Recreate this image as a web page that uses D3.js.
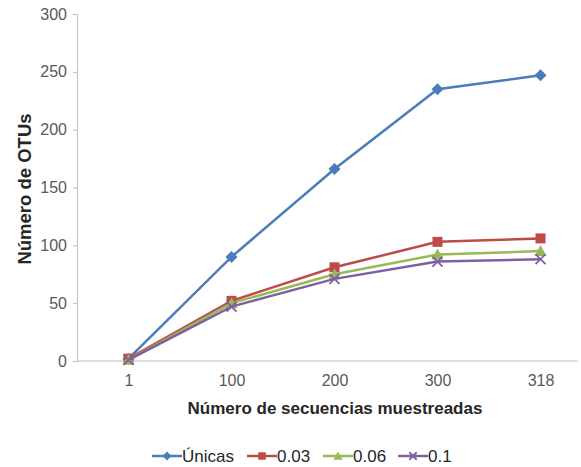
<!DOCTYPE html>
<html>
<head>
<meta charset="utf-8">
<script src="https://cdn.jsdelivr.net/npm/d3@7"></script>
<style>
  html, body { margin: 0; padding: 0; background: #fff; }
</style>
</head>
<body>
<div id="chart"></div>
<script>
const categories = ['1', '100', '200', '300', '318'];
const unicas = [2, 90, 166, 235, 247];
const s003 = [2, 52, 81, 103, 106];
const s006 = [1, 50, 75, 92, 95];
const s01 = [1, 47, 71, 86, 88];
const yTicks = [0, 50, 100, 150, 200, 250, 300];

const series = [
  { name: 'Únicas', values: unicas, color: '#4a7ebb', marker: 'diamond' },
  { name: '0.03', values: s003, color: '#be4b48', marker: 'square' },
  { name: '0.06', values: s006, color: '#98b954', marker: 'triangle' },
  { name: '0.1', values: s01, color: '#7d60a0', marker: 'cross' },
];

const width = 581;
const height = 467;
const plotLeft = 77;
const plotTop = 14;
const plotBottom = 361;

const svg = d3.select('#chart').append('svg')
  .attr('width', width)
  .attr('height', height)
  .attr('font-family', 'Liberation Sans, Arial, sans-serif');

const x = d3.scalePoint().domain(categories).range([plotLeft, plotLeft + 515]).padding(0.5);
const y = d3.scaleLinear().domain([0, 300]).range([plotBottom, plotTop]);

// y axis
const yAxis = svg.append('g')
  .attr('transform', `translate(${plotLeft},0)`)
  .call(d3.axisLeft(y).tickValues(yTicks).tickSize(4).tickPadding(6));
yAxis.select('.domain').attr('stroke', '#bfbfbf');
yAxis.selectAll('.tick line').attr('stroke', '#bfbfbf');
yAxis.selectAll('.tick text').attr('font-size', 16).attr('fill', '#595959');

// x axis
svg.append('line')
  .attr('x1', plotLeft).attr('x2', 578)
  .attr('y1', plotBottom).attr('y2', plotBottom)
  .attr('stroke', '#bfbfbf');
const xAxis = svg.append('g')
  .attr('transform', `translate(0,${plotBottom})`)
  .call(d3.axisBottom(x).tickSize(0).tickPadding(14));
xAxis.select('.domain').remove();
xAxis.selectAll('.tick text').attr('font-size', 16).attr('fill', '#595959');

// titles
svg.append('text')
  .attr('x', 335).attr('y', 414)
  .attr('text-anchor', 'middle')
  .attr('font-size', 17).attr('font-weight', 'bold')
  .attr('fill', '#262626')
  .text('Número de secuencias muestreadas');

svg.append('text')
  .attr('transform', 'translate(31,189) rotate(-90)')
  .attr('text-anchor', 'middle')
  .attr('font-size', 18.5).attr('font-weight', 'bold')
  .attr('fill', '#262626')
  .text('Número de OTUs');

function drawMarker(g, type, color, k = 1) {
  if (type === 'diamond') {
    g.append('path').attr('d', `M0,${-6 * k}L${6 * k},0L0,${6 * k}L${-6 * k},0Z`).attr('fill', color);
  } else if (type === 'square') {
    g.append('rect').attr('x', -5 * k).attr('y', -5 * k)
      .attr('width', 10 * k).attr('height', 10 * k).attr('fill', color);
  } else if (type === 'triangle') {
    g.append('path').attr('d', `M0,${-6 * k}L${6 * k},${5 * k}L${-6 * k},${5 * k}Z`).attr('fill', color);
  } else {
    const r = 5 * k;
    g.append('path').attr('d', `M${-r},${-r}L${r},${r}M${-r},${r}L${r},${-r}`)
      .attr('stroke', color).attr('stroke-width', 1.8).attr('fill', 'none');
  }
}

const line = d3.line()
  .x((d, i) => x(categories[i]))
  .y((d) => y(d));

series.forEach((s) => {
  svg.append('path')
    .attr('d', line(s.values))
    .attr('fill', 'none')
    .attr('stroke', s.color)
    .attr('stroke-width', 2.5);
  s.values.forEach((v, i) => {
    const g = svg.append('g').attr('transform', `translate(${x(categories[i])},${y(v)})`);
    drawMarker(g, s.marker, s.color);
  });
});

// legend
const legendX = [152, 247, 323, 398];
series.forEach((s, i) => {
  const g = svg.append('g').attr('transform', `translate(${legendX[i]},456)`);
  g.append('line').attr('x1', 0).attr('x2', 30).attr('y1', 0).attr('y2', 0)
    .attr('stroke', s.color).attr('stroke-width', 2.5);
  const m = g.append('g').attr('transform', 'translate(15,0)');
  drawMarker(m, s.marker, s.color, 0.75);
  g.append('text').attr('x', 30).attr('y', 6)
    .attr('font-size', 17).attr('fill', '#262626')
    .text(s.name);
});
</script>
</body>
</html>
